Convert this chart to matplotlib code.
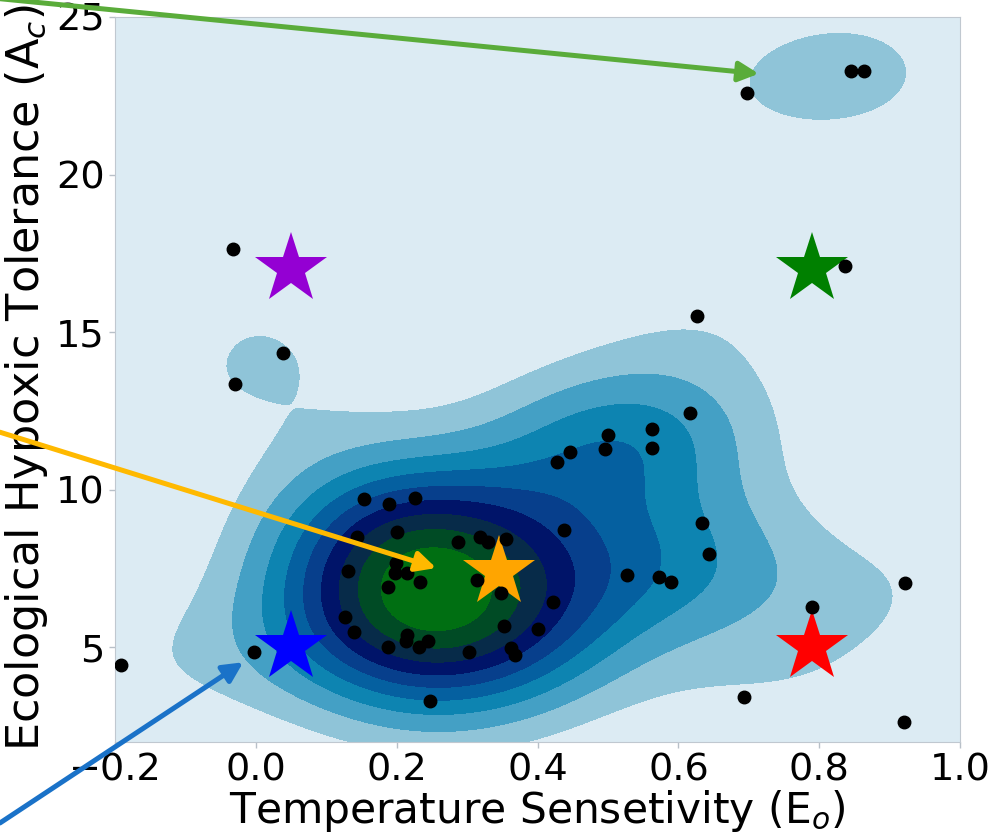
import numpy as np
import matplotlib
matplotlib.use("Agg")
import matplotlib.pyplot as plt

# scatter points
x_pts = [-0.191, -0.032, 0.038, -0.029, -0.002, 0.697, 0.845, 0.863, 0.836, 0.626,
         0.617, 0.563, 0.562, 0.500, 0.495, 0.446, 0.428, 0.634, 0.643, 0.438,
         0.527, 0.573, 0.589, 0.922, 0.789, 0.693, 0.920, 0.422, 0.401, 0.352,
         0.362, 0.368, 0.348, 0.318, 0.329, 0.355, 0.287, 0.153, 0.189, 0.226,
         0.144, 0.201, 0.131, 0.199, 0.197, 0.215, 0.233, 0.187, 0.314, 0.126,
         0.139, 0.214, 0.213, 0.245, 0.232, 0.187, 0.303, 0.247]
y_pts = [4.43, 17.65, 14.34, 13.36, 4.87, 22.6, 23.3, 23.3, 17.11, 15.5,
         12.44, 11.94, 11.34, 11.75, 11.28, 11.21, 10.87, 8.94, 7.97, 8.72,
         7.30, 7.24, 7.08, 7.05, 6.29, 3.42, 2.63, 6.45, 5.57, 5.69,
         4.98, 4.76, 6.73, 8.50, 8.36, 8.44, 8.34, 9.70, 9.54, 9.73,
         8.50, 8.66, 7.43, 7.68, 7.37, 7.37, 7.08, 6.92, 7.14, 5.98,
         5.50, 5.41, 5.22, 5.22, 5.00, 5.00, 4.87, 3.30]

# highlighted stars
star_x = [0.05, 0.79, 0.79, 0.05, 0.345]
star_y = [17.0, 17.0, 5.0, 5.0, 7.4]
star_colors = ["#9400d3", "#008000", "#ff0000", "#0000ff", "#ffa500"]

band_colors = ["#dcebf3", "#8fc4d8", "#44a0c5", "#0d84b1", "#0560a0",
               "#073f8c", "#001469", "#072b49", "#004b25", "#006f12"]

# arrows: tip in data coords, start in figure fraction
arrow_tips = [(0.714, 23.2), (0.256, 7.52), (-0.018, 4.53)]
arrow_starts = [(-0.004, 1.002), (0.0, 0.483), (0.0, 0.0156)]
arrow_colors = ["#5aac3a", "#ffb900", "#1a72c8"]


def bw_scott(v):
    v = np.asarray(v)
    iqr = np.subtract(*np.percentile(v, [75, 25]))
    a = min(np.std(v, ddof=1), iqr / 1.349)
    return 1.059 * a * len(v) ** (-0.2)


# product-kernel kde, like the old seaborn/statsmodels path
xa = np.array(x_pts)
ya = np.array(y_pts)
bx, by = bw_scott(xa), bw_scott(ya)
gx = np.linspace(-0.5, 1.3, 260)
gy = np.linspace(-5, 30, 260)
xx, yy = np.meshgrid(gx, gy)
kx = np.exp(-0.5 * ((xx[..., None] - xa) / bx) ** 2) / (bx * np.sqrt(2 * np.pi))
ky = np.exp(-0.5 * ((yy[..., None] - ya) / by) ** 2) / (by * np.sqrt(2 * np.pi))
z = (kx * ky).mean(axis=-1)

zmax = z.max()
levels = np.linspace(0, zmax, 11)
levels[1] = 0.107 * zmax
levels[0] = -1

fig = plt.figure(figsize=(9.94, 8.36), dpi=100)
ax = fig.add_axes([0.1157, 0.1124, 0.8503, 0.8673])
ax.contourf(xx, yy, z, levels=levels, colors=band_colors)

for sx, sy, c in zip(star_x, star_y, star_colors):
    ax.plot(sx, sy, marker="*", markersize=54, color=c, markeredgewidth=0, zorder=3)
ax.plot(x_pts, y_pts, "o", color="black", markersize=9, zorder=4)

ax.set_xlim(-0.2, 1.0)
ax.set_ylim(2.0, 25.0)
ax.set_xticks([-0.2, 0.0, 0.2, 0.4, 0.6, 0.8, 1.0])
ax.set_yticks([5, 10, 15, 20, 25])
ax.tick_params(labelsize=27.5, color="#b8c0c8", length=4, width=1)
for s in ax.spines.values():
    s.set_color("#c0c8d0")
ax.set_xlabel("Temperature Sensetivity (E$_o$)", fontsize=30.5, labelpad=0)
ax.set_ylabel("Ecological Hypoxic Tolerance (A$_c$)", fontsize=32)
ax.yaxis.set_label_coords(-0.077, 0.503)

for tip, start, c in zip(arrow_tips, arrow_starts, arrow_colors):
    ax.annotate("", xy=tip, xycoords="data", xytext=start, textcoords="figure fraction",
                arrowprops=dict(arrowstyle="-|>", color=c, lw=3.6, mutation_scale=30,
                                shrinkA=0, shrinkB=0),
                annotation_clip=False, zorder=6)

fig.savefig("out.png", dpi=100)
